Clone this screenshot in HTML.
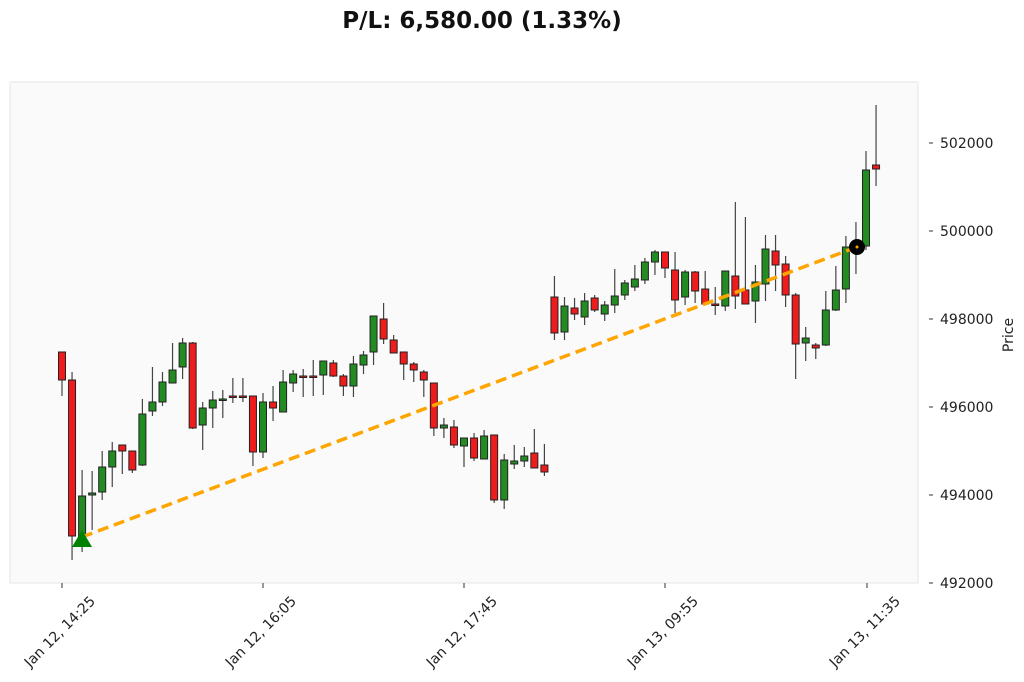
<!DOCTYPE html>
<html><head><meta charset="utf-8"><style>
html,body{margin:0;padding:0;background:#fff;}
svg{display:block;font-family:"DejaVu Sans","Liberation Sans",sans-serif;}
</style></head><body>
<svg id="s" width="1024" height="682" xmlns="http://www.w3.org/2000/svg">
<rect x="0" y="0" width="1024" height="682" fill="#fff"/>
<text x="482" y="28" text-anchor="middle" font-size="23" font-weight="bold" fill="#111">P/L: 6,580.00 (1.33%)</text>
<rect x="10" y="82" width="908" height="501" fill="#fafafa" stroke="#e6e6e6" stroke-width="1"/>
<g id="c"></g>
<line x1="82" y1="537" x2="857" y2="247" stroke="#ffa500" stroke-width="3.5" stroke-dasharray="11,6"/>
<polygon points="82,530 72,547 92,547" fill="#008000"/>
<circle cx="857" cy="247" r="8" fill="#000"/>
<circle cx="857" cy="247" r="1.5" fill="#ffa500"/>
<g font-size="14" fill="#222" id="yt"></g>
<text x="1013" y="335" font-size="14" fill="#222" text-anchor="middle" transform="rotate(-90 1013 335)">Price</text>
<g font-size="14" fill="#222" id="xt"></g>
</svg>
<script>
var d=[
[352,380,352,396],[380,536,372,560],[536,496,470,552],[495,493,471,530],[492,467,451,500],[467,451,442,487],[445,451,445,474],[451,470,451,473],[465,414,399,466],[411,402,367,416],[402,382,372,406],[383,370,343,383],[367,343,338,379],[343,428,342,429],[425,408,402,450],[408,400,391,428],[400,399,390,418],[396,396,378,403],[396,396,378,402],[396,452,396,466],
[452,402,393,458],[402,408,386,421],[412,382,370,412],[383,374,370,392],[376,376,369,397],[376,376,360,396],[375,361,361,395],[363,376,360,377],[376,386,374,396],[386,364,356,397],[365,355,351,374],[352,316,316,365],[319,339,303,344],[340,353,335,353],[352,364,352,380],[364,370,362,382],[372,380,370,397],[383,428,383,436],[428,425,418,438],[427,445,420,448],
[446,438,438,467],[438,458,433,461],[459,436,430,459],[435,500,435,503],[500,460,454,509],[464,461,445,469],[461,456,447,467],[453,468,429,468],[465,472,444,476],[297,333,276,340],
[332,306,297,340],[308,314,298,320],[317,301,293,325],[298,310,295,312],[314,305,301,321],[305,296,269,313],[295,283,280,300],[287,279,265,291],[280,262,258,284],[262,252,250,275],
[252,268,252,278],[270,300,252,313],[297,272,270,305],[272,291,271,303],[289,304,271,304],[304,304,287,315],[306,271,271,311],[276,296,202,309],[290,304,217,304],[301,282,265,323],
[284,249,235,301],[251,265,235,291],[264,295,256,307],[295,344,293,379],[343,338,327,361],[345,348,343,359],[345,310,291,346],[310,290,266,311],[289,247,236,303],[248,246,222,274],
[246,170,151,250],[165,169,105,186]];
var g=document.getElementById('c'),h='';
d.forEach(function(c,i){var x=62+10.05*i;var o=c[0],cl=c[1];var up=cl<o;
h+='<line x1="'+x+'" y1="'+c[2]+'" x2="'+x+'" y2="'+c[3]+'" stroke="#444" stroke-width="1.2"/>';
var t=Math.min(o,cl),b=Math.max(o,cl);if(b-t<1.5){b=t+1.5;}
h+='<rect x="'+(x-3.5)+'" y="'+t+'" width="7" height="'+(b-t)+'" fill="'+(up?'#228b22':'#ee1c1c')+'" stroke="#222" stroke-width="1"/>';});
g.innerHTML=h;
var yt='';[492000,494000,496000,498000,500000,502000].forEach(function(v,k){var y=583-k*88;
yt+='<line x1="929" y1="'+y+'" x2="933" y2="'+y+'" stroke="#333"/><text x="940" y="'+(y+5)+'">'+v+'</text>';});
document.getElementById('yt').innerHTML=yt;
var xt='';[['Jan 12, 14:25',62],['Jan 12, 16:05',263],['Jan 12, 17:45',464],['Jan 13, 09:55',665],['Jan 13, 11:35',867]].forEach(function(a){
var tx=a[1]+34,ty=602;
xt+='<line x1="'+a[1]+'" y1="583" x2="'+a[1]+'" y2="588" stroke="#333"/><text x="'+tx+'" y="'+ty+'" text-anchor="end" transform="rotate(-45 '+tx+' '+ty+')">'+a[0]+'</text>';});
document.getElementById('xt').innerHTML=xt;
</script>
</body></html>
